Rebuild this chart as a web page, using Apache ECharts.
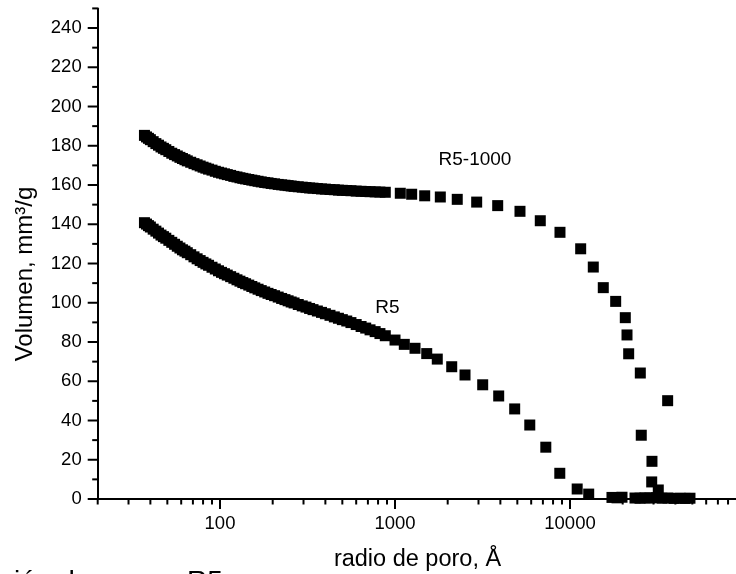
<!DOCTYPE html>
<html>
<head>
<meta charset="utf-8">
<script src="https://cdn.jsdelivr.net/npm/echarts@6/dist/echarts.min.js"></script>
<style>
  html, body { margin: 0; padding: 0; background: #fff; }
  #chart { width: 736px; height: 574px; }
</style>
</head>
<body>
<div id="chart"></div>
<script>
const FONT = "'Liberation Sans', Arial, Helvetica, sans-serif";

// pore radius (Å) / cumulative volume (mm3/g)
const radiusR5_1000 = [
  37, 38, 39, 40, 41.5, 43, 44.5, 46, 47.5, 49, 51, 53, 55, 57, 59, 61, 63, 65, 68, 71, 74, 77,
  80, 83, 86, 90, 94, 98, 102, 106, 110, 115, 120, 125, 130, 135, 140, 146, 152, 158, 165, 172,
  180, 188, 196, 205, 215, 225, 235, 245, 255, 265, 280, 295, 310, 325, 340, 360, 380, 400,
  425, 450, 475, 500, 530, 560, 600, 640, 680, 720, 770, 820, 880,
  1072, 1245, 1478, 1815, 2268, 2929, 3862, 5178, 6763, 8764, 11508, 13584, 15494,
  18239, 20700, 21170, 21640, 25220, 25540, 29300, 29400, 31950, 36140,
  23520, 25120, 26830, 28640, 31000, 33540, 36300, 39270, 42510, 45400, 48480
];
const volumeR5_1000 = [
  185.3, 184.5, 183.8, 183.1, 182.1, 181.1, 180.3, 179.4, 178.7, 178.0, 177.1, 176.2, 175.5, 174.8,
  174.1, 173.5, 172.9, 172.3, 171.6, 170.9, 170.3, 169.7, 169.1, 168.6, 168.1, 167.6, 167.0, 166.5,
  166.1, 165.7, 165.3, 164.9, 164.4, 164.1, 163.7, 163.4, 163.1, 162.8, 162.5, 162.2, 161.9, 161.6,
  161.3, 161.1, 160.8, 160.6, 160.3, 160.1, 159.9, 159.7, 159.5, 159.3, 159.1, 158.9, 158.7, 158.5,
  158.4, 158.2, 158.0, 157.9, 157.7, 157.6, 157.4, 157.3, 157.2, 157.1, 156.9, 156.8, 156.7, 156.6,
  156.5, 156.4, 156.3,
  155.8, 155.3, 154.5, 153.9, 152.7, 151.3, 149.5, 146.6, 141.8, 135.9, 127.5, 118.2, 107.7,
  100.7, 92.4, 83.6, 74.0, 64.2, 32.5, 8.7, 19.2, 4.6, 50.1,
  0.5, 0.4, 0.6, 0.5, 0.7, 0.4, 0.5, 0.3, 0.4, 0.3, 0.4
];

const radiusR5 = [
  37, 38, 39, 40, 41.5, 43, 44.5, 46, 47.5, 49, 51, 53, 55, 57, 59, 61, 63, 65, 68, 71, 74, 77,
  80, 83, 86, 90, 94, 98, 102, 106, 110, 115, 120, 125, 130, 135, 140, 146, 152, 158, 165, 172,
  180, 188, 196, 205, 215, 225, 235, 245, 255, 265, 280, 295, 310, 325, 340, 360, 380, 400,
  425, 450, 475, 500, 530, 560, 600, 640, 680, 720, 770, 820, 880,
  1000, 1130, 1301, 1518, 1744, 2109, 2512, 3170, 3913, 4829, 5890, 7273, 8742, 10990, 12790,
  17370, 18560, 19820
];
const volumeR5 = [
  140.8, 140.1, 139.3, 138.6, 137.5, 136.5, 135.5, 134.5, 133.7, 132.9, 131.8, 130.8, 129.8, 128.8,
  127.9, 127.0, 126.3, 125.5, 124.5, 123.4, 122.4, 121.5, 120.6, 119.8, 119.1, 118.1, 117.2, 116.3,
  115.5, 114.8, 114.1, 113.3, 112.5, 111.7, 111.0, 110.3, 109.7, 109.0, 108.3, 107.6, 106.9, 106.2,
  105.5, 104.8, 104.2, 103.6, 102.9, 102.2, 101.6, 101.0, 100.4, 99.9, 99.1, 98.4, 97.8, 97.1,
  96.5, 95.8, 95.1, 94.4, 93.6, 92.8, 92.1, 91.4, 90.7, 89.9, 88.9, 87.9, 87.1, 86.2,
  85.3, 84.3, 83.2,
  81.0, 78.8, 76.8, 74.1, 71.3, 67.4, 63.2, 58.2, 52.5, 45.9, 37.7, 26.4, 13.1, 5.1, 2.5,
  0.8, 0.6, 0.9
];

const xMajorTicks = [100, 1000, 10000, 100000];
const xMinorTicks = [20, 30, 40, 50, 60, 70, 80, 90,
  200, 300, 400, 500, 600, 700, 800, 900,
  2000, 3000, 4000, 5000, 6000, 7000, 8000, 9000,
  20000, 30000, 40000, 50000, 60000, 70000, 80000, 90000];
const yMajorTicks = [0, 20, 40, 60, 80, 100, 120, 140, 160, 180, 200, 220, 240];
const yMinorTicks = [10, 30, 50, 70, 90, 110, 130, 150, 170, 190, 210, 230, 250];

const curveNames = ['R5-1000', 'R5'];
const curveLabelRadius = [2864, 906];
const curveLabelVolume = [173, 97.6];

const zip = (xs, ys) => xs.map((x, i) => [x, ys[i]]);

const tickData = [].concat(
  xMajorTicks.map(v => [v, 0, 10, 0]),
  xMinorTicks.map(v => [v, 0, 5.5, 0]),
  yMajorTicks.map(v => [20, v, 10, 1]),
  yMinorTicks.map(v => [20, v, 5.5, 1])
);

function renderTick(params, api) {
  const p = api.coord([api.value(0), api.value(1)]);
  const len = api.value(2);
  const shape = api.value(3) === 0
    ? { x1: p[0], y1: p[1], x2: p[0], y2: p[1] + len }
    : { x1: p[0] - len, y1: p[1], x2: p[0], y2: p[1] };
  return { type: 'line', shape, style: { stroke: '#000', lineWidth: 2 }, silent: true };
}

const chart = echarts.init(document.getElementById('chart'), null, { renderer: 'canvas' });

const markerSeries = (name, data) => ({
  name,
  type: 'scatter',
  data,
  symbol: 'rect',
  symbolSize: 11,
  itemStyle: { color: '#000', opacity: 1 },
  silent: true
});

chart.setOption({
  animation: false,
  backgroundColor: '#fff',
  grid: { left: 97.7, right: -9, top: 8.4, bottom: 75, containLabel: false, outerBoundsMode: 'none' },
  xAxis: {
    type: 'log',
    logBase: 10,
    min: 20,
    max: 100000,
    axisLine: { show: true, onZero: false, lineStyle: { color: '#000', width: 2 } },
    axisTick: { show: false },
    splitLine: { show: false },
    axisLabel: {
      margin: 15,
      color: '#000',
      fontSize: 18.5,
      fontFamily: FONT,
      showMinLabel: false,
      showMaxLabel: false,
      formatter: v => String(Math.round(v))
    }
  },
  yAxis: {
    type: 'value',
    min: 0,
    max: 250,
    interval: 20,
    axisLine: { show: true, onZero: false, lineStyle: { color: '#000', width: 2 } },
    axisTick: { show: false },
    splitLine: { show: false },
    axisLabel: {
      margin: 16,
      color: '#000',
      fontSize: 18.5,
      fontFamily: FONT,
      showMaxLabel: false,
      formatter: v => (v > 240 ? '' : String(v))
    }
  },
  graphic: [
    {
      type: 'text', x: 25, y: 274, rotation: Math.PI / 2,
      style: { text: 'Volumen, mm³/g', font: '24px ' + FONT, fill: '#000',
        align: 'center', verticalAlign: 'middle', textAlign: 'center', textVerticalAlign: 'middle' }
    },
    {
      type: 'text', x: 417.5, y: 560,
      style: { text: 'radio de poro, Å', font: '23.5px ' + FONT, fill: '#000',
        align: 'center', verticalAlign: 'middle', textAlign: 'center', textVerticalAlign: 'middle' }
    },
    {
      type: 'text', x: 0, y: 582,
      style: { text: 'ción de', font: '28px ' + FONT, fill: '#000',
        align: 'left', verticalAlign: 'middle', textAlign: 'left', textVerticalAlign: 'middle' }
    },
    {
      type: 'text', x: 187, y: 582,
      style: { text: 'R5', font: '28px ' + FONT, fill: '#000',
        align: 'left', verticalAlign: 'middle', textAlign: 'left', textVerticalAlign: 'middle' }
    }
  ],
  series: [
    markerSeries('R5-1000', zip(radiusR5_1000, volumeR5_1000)),
    markerSeries('R5', zip(radiusR5, volumeR5)),
    {
      type: 'scatter',
      silent: true,
      symbolSize: 0,
      itemStyle: { opacity: 1 },
      data: curveNames.map((n, i) => [curveLabelRadius[i], curveLabelVolume[i], n]),
      label: {
        show: true,
        position: 'inside',
        formatter: p => p.data[2],
        color: '#000',
        fontSize: 19,
        fontFamily: FONT
      }
    },
    {
      type: 'custom',
      silent: true,
      clip: false,
      renderItem: renderTick,
      data: tickData,
      z: 5
    }
  ]
});
</script>
</body>
</html>
